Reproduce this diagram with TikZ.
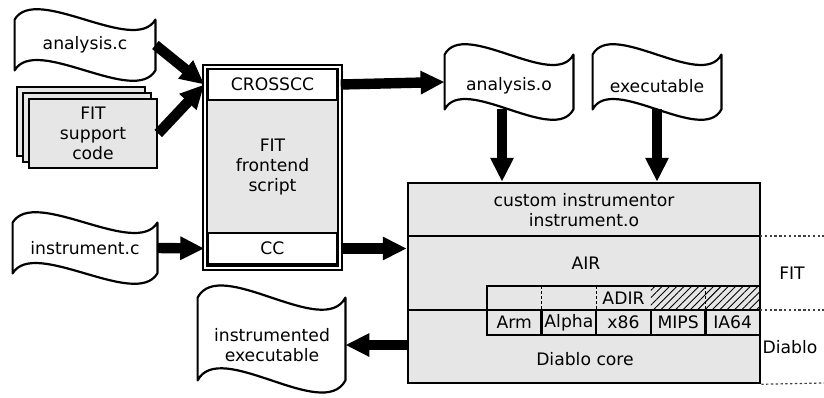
\documentclass[tikz,border=0pt]{standalone}
\usepackage{fontspec}
\setmainfont{DejaVu Sans}
\usetikzlibrary{calc,arrows.meta,patterns.meta}
\definecolor{boxgray}{HTML}{E6E6E6}
\newcommand\docwave[2]{%
  \draw[docline] (#1.north west)
    .. controls ($(#1.north west)!0.15!(#1.north east)+(0,-#2)$) and ($(#1.north east)!0.15!(#1.north west)+(0,#2)$) .. (#1.north east)
    -- (#1.south east)
    .. controls ($(#1.south east)!0.15!(#1.south west)+(0,#2)$) and ($(#1.south west)!0.15!(#1.south east)+(0,-#2)$) .. (#1.south west)
    -- cycle;}
\begin{document}
\begin{tikzpicture}[x=0.5pt, y=-0.5pt, font=\fontsize{8.6}{10}\selectfont,
  docline/.style={line width=1.1pt, line join=round},
  doc/.style={inner sep=0pt, align=center},
  box/.style={draw, line width=1.25pt, fill=boxgray, inner sep=0pt, align=center},
  whitebox/.style={box, fill=white},
  txt/.style={inner sep=0pt, align=center},
  bigarrow/.style={line width=5.2pt, -{Triangle[length=12pt,width=11pt]}},
  sepline/.style={line width=1.25pt},
  dotline/.style={line width=0.6pt, black!75, dash pattern=on 1.2pt off 1.2pt},
  dashsep/.style={line width=0.5pt, dash pattern=on 1.5pt off 1pt},
  archcell/.style={box, minimum width=27.3pt, minimum height=12.5pt}]
\useasboundingbox (0,0) rectangle (824,397);

% input documents
\node[doc, minimum width=70pt, minimum height=25pt] (ac) at (85,45) {analysis.c};
\docwave{ac}{36}
\node[doc, minimum width=72pt, minimum height=25pt] (ic) at (85,248) {instrument.c};
\docwave{ic}{36}

% FIT support code stack
\node[box, minimum width=64pt, minimum height=34.5pt] (fitb3) at (81,121.5) {};
\node[box, minimum width=64pt, minimum height=34.5pt] (fitb2) at (87,127.5) {};
\node[box, minimum width=64pt, minimum height=34.5pt] (fit) at (93,133.5) {FIT\\support\\code};

% frontend script
\node[draw, line width=0.7pt, double=white, double distance=1.2pt, fill=boxgray,
      minimum width=67.5pt, minimum height=100.5pt, inner sep=0pt] (front) at (272.5,167.5) {};
\node[whitebox, minimum width=64.5pt, minimum height=15.5pt] (cross) at (272.5,84.5) {CROSSCC};
\node[whitebox, minimum width=64.5pt, minimum height=15.5pt] (cc) at (272.5,248.5) {CC};
\node[txt] (fitfe) at (272.5,167) {FIT\\frontend\\script};

% output objects
\node[doc, minimum width=64pt, minimum height=27pt] (aof) at (509,82) {};
\node[txt] (ao) at (509,86) {analysis.o};
\docwave{aof}{36}
\node[doc, minimum width=64pt, minimum height=27pt] (exf) at (657,82) {};
\node[txt] (ex) at (657,86) {executable};
\docwave{exf}{36}

% big instrumentor box
\node[box, minimum width=176pt, minimum height=100pt] (big) at (584,283) {};
\coordinate (s1a) at (408,236); \coordinate (s1b) at (760,236);
\coordinate (s2a) at (408,310); \coordinate (s2b) at (760,310);
\draw[sepline] (s1a) -- (s1b);
\node[txt] (custom) at (584,210) {custom instrumentor\\instrument.o};
\node[txt] (air) at (586,263) {AIR};

% ADIR row
\fill[pattern={Lines[angle=45,distance=2.6pt,line width=0.45pt]}] (650.8,286) rectangle (760,310);
\draw[dashsep] (541.6,286) -- (541.6,310);
\draw[dashsep] (596.2,286) -- (596.2,310);
\draw[dashsep] (705.4,286) -- (705.4,310);
\node[draw, line width=1.25pt, minimum width=136.5pt, minimum height=12pt, inner sep=0pt] (adir) at (623.5,298) {ADIR};
\draw[sepline] (s2a) -- (s2b);

% architecture cells
\node[archcell] (arm) at (514.3,322.5) {Arm};
\node[archcell] (alpha) at (568.9,322.5) {Alpha};
\node[archcell] (x86) at (623.5,322.5) {x86};
\node[archcell] (mips) at (678.1,322.5) {MIPS};
\node[archcell] (ia64) at (732.7,322.5) {IA64};
\node[txt] (core) at (585,359) {Diablo core};

% side layers
\coordinate (d1) at (824,236); \coordinate (d2) at (824,310); \coordinate (d3) at (824,383);
\draw[dotline] (s1b) -- (d1);
\draw[dotline] (s2b) -- (d2);
\draw[dotline] (big.south east) -- (d3);
\node[txt] (lfit) at (792,273) {FIT};
\node[txt] (ldiablo) at (790,347) {Diablo};

% output
\node[doc, minimum width=73.5pt, minimum height=41pt] (ief) at (271.5,339) {};
\node[txt] (ie) at (272,345) {instrumented\\executable};
\docwave{ief}{42}

% arrows
\draw[bigarrow] (ac.east) -- (front.west |- cross.west);
\draw[bigarrow] (fit.east) -- (front.west |- cross.west);
\draw[bigarrow] (front.east |- cross.east) -- (aof.west);
\draw[bigarrow] (ic.east) -- (front.west |- cc.west);
\draw[bigarrow] (front.east |- cc.east) -- (big.west |- cc.east);
\draw[bigarrow] ([xshift=-3.5pt]aof.south) -- ([xshift=-3.5pt]aof.south |- big.north);
\draw[bigarrow] (exf.south) -- (exf.south |- big.north);
\draw[bigarrow] (big.west |- ie) -- (ief.east |- ie);
\end{tikzpicture}
\end{document}
